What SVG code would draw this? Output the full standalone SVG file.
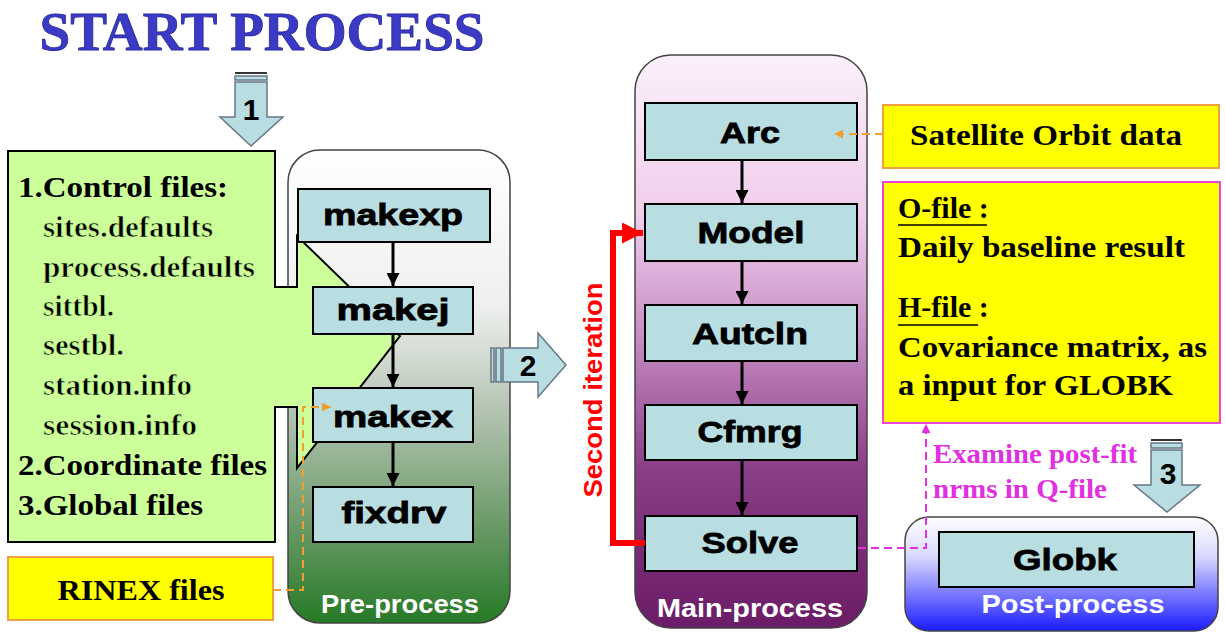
<svg xmlns="http://www.w3.org/2000/svg" width="1225" height="634" viewBox="0 0 1225 634">
<defs>
<linearGradient id="gPre" x1="0" y1="0" x2="0" y2="1">
<stop offset="0" stop-color="#ffffff"/><stop offset="0.33" stop-color="#eef0ee"/><stop offset="0.55" stop-color="#b4c4b2"/><stop offset="0.78" stop-color="#6f9c6c"/><stop offset="1" stop-color="#267a26"/>
</linearGradient>
<linearGradient id="gMain" x1="0" y1="0" x2="0" y2="1">
<stop offset="0" stop-color="#fcf0fc"/><stop offset="0.28" stop-color="#f0cdec"/><stop offset="0.5" stop-color="#c58ac2"/><stop offset="0.72" stop-color="#8a3e86"/><stop offset="1" stop-color="#6a1c66"/>
</linearGradient>
<linearGradient id="gPost" x1="0" y1="0" x2="0" y2="1">
<stop offset="0" stop-color="#ffffff"/><stop offset="0.35" stop-color="#d8d8ff"/><stop offset="1" stop-color="#1a1aff"/>
</linearGradient>
<marker id="mBlk" viewBox="0 0 10 10" refX="10" refY="5" markerWidth="13" markerHeight="13" markerUnits="userSpaceOnUse" orient="auto"><path d="M0,0 L10,5 L0,10 Z" fill="#000"/></marker>
<marker id="mRed" viewBox="0 0 10 10" refX="10" refY="5" markerWidth="21" markerHeight="21" markerUnits="userSpaceOnUse" orient="auto"><path d="M0,0 L10,5 L0,10 Z" fill="#ff0000"/></marker>
<marker id="mOr" viewBox="0 0 10 10" refX="10" refY="5" markerWidth="9" markerHeight="9" markerUnits="userSpaceOnUse" orient="auto"><path d="M0,0 L10,5 L0,10 Z" fill="#f0a030"/></marker>
<marker id="mMag" viewBox="0 0 10 10" refX="10" refY="5" markerWidth="9" markerHeight="9" markerUnits="userSpaceOnUse" orient="auto"><path d="M0,0 L10,5 L0,10 Z" fill="#e030e0"/></marker>
</defs>
<style>
.box{fill:#b9dee2;stroke:#000;stroke-width:2}
.bt{font-family:"Liberation Sans",Arial,sans-serif;font-weight:bold;font-size:30px;fill:#000;stroke:#000;stroke-width:0.8;text-anchor:middle}
.panel{stroke:#444;stroke-width:1.5}
.pl{font-family:"Liberation Sans",Arial,sans-serif;font-weight:bold;font-size:25px;fill:#fff;text-anchor:middle}
.sb{font-family:"Liberation Serif","Times New Roman","DejaVu Serif",serif;font-weight:bold;font-size:30px;fill:#000}
.sr{font-family:"Liberation Serif","Times New Roman",serif;font-weight:600;font-size:30px;fill:#000;stroke:#ccff99;stroke-width:0.7}
.yel{fill:#ffff00;stroke:#f0a040;stroke-width:2}
.barrow{fill:#b9dee2;stroke:#667788;stroke-width:1.5}
.num{font-family:"Liberation Sans",Arial,sans-serif;font-weight:bold;font-size:30px;fill:#000;text-anchor:middle}
.ca{stroke:#000;stroke-width:3;fill:none;marker-end:url(#mBlk)}
</style>

<g id="title">
<text x="262" y="50" text-anchor="middle" font-family="Liberation Serif, Times New Roman, serif" font-weight="bold" font-size="54" fill="#3a3ac4" stroke="#2a2aa0" stroke-width="0.8" textLength="445" lengthAdjust="spacingAndGlyphs">START PROCESS</text>
</g>

<g id="arrow1">
<rect x="235" y="72" width="32" height="2" fill="#333"/>
<rect x="235" y="76" width="32" height="4" class="barrow"/>
<path class="barrow" d="M235,82 H267 V117 H283 L251,146 L220,117 H235 Z"/>
<text class="num" x="251" y="120">1</text>
</g>

<g id="pre-process">
<rect class="panel" x="288" y="150" width="222" height="473" rx="32" fill="url(#gPre)"/>
<text class="pl" x="400" y="613" textLength="158" lengthAdjust="spacingAndGlyphs">Pre-process</text>
</g>

<g id="control-files">
<path d="M8,151 H275 V287 H297 V236 L400,336 L297,468 V407 H275 V542 H8 Z" fill="#ccff99" stroke="#000" stroke-width="2"/>
<text class="sb" x="18" y="197" textLength="210" lengthAdjust="spacingAndGlyphs">1.Control files:</text>
<text class="sr" x="43" y="237" textLength="170" lengthAdjust="spacingAndGlyphs">sites.defaults</text>
<text class="sr" x="43" y="277" textLength="212" lengthAdjust="spacingAndGlyphs">process.defaults</text>
<text class="sr" x="43" y="316" textLength="71" lengthAdjust="spacingAndGlyphs">sittbl.</text>
<text class="sr" x="43" y="355" textLength="81" lengthAdjust="spacingAndGlyphs">sestbl.</text>
<text class="sr" x="43" y="395" textLength="149" lengthAdjust="spacingAndGlyphs">station.info</text>
<text class="sr" x="43" y="435" textLength="154" lengthAdjust="spacingAndGlyphs">session.info</text>
<text class="sb" x="18" y="475" textLength="249" lengthAdjust="spacingAndGlyphs">2.Coordinate files</text>
<text class="sb" x="18" y="515" textLength="185" lengthAdjust="spacingAndGlyphs">3.Global files</text>
</g>

<g id="makexp"><rect class="box" x="298" y="189" width="192" height="53"/><text class="bt" x="393" y="225" textLength="140" lengthAdjust="spacingAndGlyphs">makexp</text></g>
<g id="makej"><rect class="box" x="313" y="287" width="160" height="47"/><text class="bt" x="393" y="320" textLength="113" lengthAdjust="spacingAndGlyphs">makej</text></g>
<g id="makex"><rect class="box" x="313" y="388" width="160" height="54"/><text class="bt" x="393" y="427" textLength="120" lengthAdjust="spacingAndGlyphs">makex</text></g>
<g id="fixdrv"><rect class="box" x="313" y="487" width="160" height="55"/><text class="bt" x="394" y="523" textLength="105" lengthAdjust="spacingAndGlyphs">fixdrv</text></g>

<g id="rinex">
<rect class="yel" x="8" y="557" width="265" height="63"/>
<text class="sb" x="141" y="600" text-anchor="middle" textLength="167" lengthAdjust="spacingAndGlyphs">RINEX files</text>
</g>

<g id="arrow2">
<rect x="491" y="348" width="3" height="34" class="barrow"/>
<rect x="496" y="348" width="5" height="34" class="barrow"/>
<path class="barrow" d="M503,348 H538 V333 L566,365 L538,397 V382 H503 Z"/>
<text class="num" x="528" y="376">2</text>
</g>

<g id="main-process">
<rect class="panel" x="635" y="55" width="232" height="573" rx="36" fill="url(#gMain)"/>
<text class="pl" x="750" y="617" textLength="186" lengthAdjust="spacingAndGlyphs">Main-process</text>
</g>
<g id="arc"><rect class="box" x="645" y="103" width="212" height="57"/><text class="bt" x="750" y="143" textLength="60" lengthAdjust="spacingAndGlyphs">Arc</text></g>
<g id="model"><rect class="box" x="645" y="204" width="212" height="57"/><text class="bt" x="751" y="243" textLength="107" lengthAdjust="spacingAndGlyphs">Model</text></g>
<g id="autcln"><rect class="box" x="645" y="305" width="212" height="56"/><text class="bt" x="750" y="344" textLength="116" lengthAdjust="spacingAndGlyphs">Autcln</text></g>
<g id="cfmrg"><rect class="box" x="645" y="405" width="212" height="55"/><text class="bt" x="750" y="442" textLength="105" lengthAdjust="spacingAndGlyphs">Cfmrg</text></g>
<g id="solve"><rect class="box" x="645" y="516" width="212" height="55"/><text class="bt" x="750" y="553" textLength="97" lengthAdjust="spacingAndGlyphs">Solve</text></g>

<g id="second-iteration">
<text x="602" y="390" transform="rotate(-90 602 390)" text-anchor="middle" font-family="Liberation Sans, Arial, sans-serif" font-weight="bold" font-size="25" fill="#ff0000" textLength="215" lengthAdjust="spacingAndGlyphs">Second iteration</text>
</g>

<g id="satellite">
<rect class="yel" x="883" y="105" width="336" height="63"/>
<text class="sb" x="910" y="145" textLength="272" lengthAdjust="spacingAndGlyphs">Satellite Orbit data</text>
</g>

<g id="ofile">
<rect x="883" y="182" width="337" height="241" fill="#ffff00" stroke="#ee44dd" stroke-width="2"/>
<text class="sb" x="898" y="218">O-file :</text>
<line x1="898" y1="225" x2="987" y2="225" stroke="#000" stroke-width="1.5"/>
<text class="sb" x="898" y="257" textLength="287" lengthAdjust="spacingAndGlyphs">Daily baseline result</text>
<text class="sb" x="898" y="317">H-file :</text>
<line x1="898" y1="325" x2="978" y2="325" stroke="#000" stroke-width="1.5"/>
<text class="sb" x="898" y="357" textLength="309" lengthAdjust="spacingAndGlyphs">Covariance matrix, as</text>
<text class="sb" x="898" y="395" textLength="275" lengthAdjust="spacingAndGlyphs">a input for GLOBK</text>
</g>

<g id="examine">
<text font-family="Liberation Serif, Times New Roman, serif" font-weight="bold" font-size="27" fill="#e030e0" x="933" y="463" textLength="204" lengthAdjust="spacingAndGlyphs">Examine post-fit</text>
<text font-family="Liberation Serif, Times New Roman, serif" font-weight="bold" font-size="27" fill="#e030e0" x="933" y="498" textLength="174" lengthAdjust="spacingAndGlyphs">nrms in Q-file</text>
</g>

<g id="arrow3">
<rect x="1151" y="439" width="31" height="2" fill="#333"/>
<rect x="1151" y="443" width="31" height="5" class="barrow"/>
<path class="barrow" d="M1151,450 H1182 V485 H1200 L1167,512 L1134,485 H1151 Z"/>
<text class="num" x="1168" y="484">3</text>
</g>

<g id="post-process">
<rect class="panel" x="905" y="517" width="313" height="114" rx="24" fill="url(#gPost)"/>
<text class="pl" x="1073" y="613" textLength="183" lengthAdjust="spacingAndGlyphs">Post-process</text>
</g>
<g id="globk"><rect class="box" x="939" y="532" width="255" height="55"/><text class="bt" x="1065" y="570" textLength="104" lengthAdjust="spacingAndGlyphs">Globk</text></g>

<g id="connectors">
<line class="ca" x1="393" y1="243" x2="393" y2="286"/>
<line class="ca" x1="393" y1="335" x2="393" y2="387"/>
<line class="ca" x1="393" y1="443" x2="393" y2="486"/>
<line class="ca" x1="742" y1="161" x2="742" y2="203"/>
<line class="ca" x1="742" y1="262" x2="742" y2="304"/>
<line class="ca" x1="742" y1="362" x2="742" y2="404"/>
<line class="ca" x1="742" y1="461" x2="742" y2="515"/>
<path d="M645,543 H613 V233 H643" fill="none" stroke="#ff0000" stroke-width="6" marker-end="url(#mRed)"/>
<path d="M273,590 H303 V407 H331" fill="none" stroke="#f0a030" stroke-width="2" stroke-dasharray="8,5" marker-end="url(#mOr)"/>
<path d="M883,134 H834" fill="none" stroke="#f0a030" stroke-width="2" stroke-dasharray="8,5" marker-end="url(#mOr)"/>
<path d="M858,548 H926 V424" fill="none" stroke="#e030e0" stroke-width="2" stroke-dasharray="8,5" marker-end="url(#mMag)"/>
</g>
</svg>
